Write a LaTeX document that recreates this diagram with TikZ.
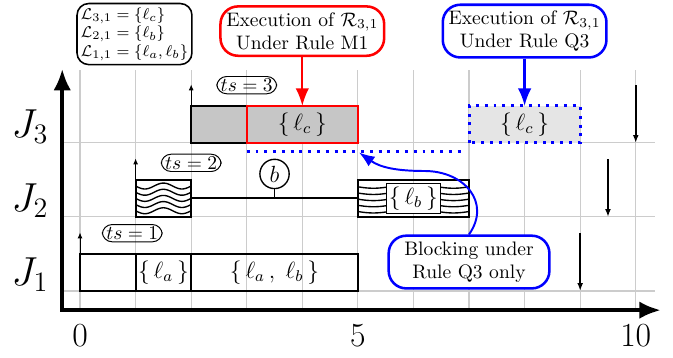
\documentclass[tikz,border=0pt]{standalone}
\usetikzlibrary{arrows.meta}
\begin{document}
\begin{tikzpicture}[x=1cm,y=1.332cm,
  job/.style={draw,line width=1pt},
  tag/.style={draw,rounded corners=5pt,inner ysep=1.2pt,inner xsep=2pt,line width=.5pt},
  callout/.style={draw,rounded corners=9pt,line width=1.3pt,fill=white,align=center,inner sep=3pt},
  rel/.style={-{Latex[length=3pt,width=2.5pt]},line width=.5pt},
  dl/.style={-{Latex[length=4pt,width=3pt]},line width=.9pt},
  cl/.style={line width=1.2pt,-{Latex[length=9pt,width=7pt]}},
  qdot/.style={blue,line width=1.5pt,dash pattern=on 1.5pt off 3pt}]
\useasboundingbox (-1.44,-.905) rectangle (10.67,3.93);
\draw[gray!40,line width=.6pt,step=1] (-.3,-.25) grid (10.35,2.98);
% axes
\coordinate (o) at (-.32,-.26);\coordinate (xend) at (10.45,-.26);\coordinate (yend) at (-.32,3.0);
\draw[line width=2pt,{Latex[length=11pt,width=9pt]}-{Latex[length=11pt,width=9pt]}] (yend) -- (o) -- (xend);
\foreach \x in {0,5,10}{\node[font=\LARGE] (t\x) at (\x,-.6){$\x$};}
\foreach \k/\y in {1/0,2/1,3/2}{\node[font=\huge] (j\k) at (-.9,\y+.22){$J_\k$};}
% J1
\draw[job] (0,0) rectangle (5,.5);\draw[job] (1,0) -- (1,.5) (2,0) -- (2,.5);
\node[font=\large] (la) at (1.5,.25){$\{\,\ell_a\,\}$};
\node[font=\large] (lab) at (3.5,.25){$\{\,\ell_a\,,\;\ell_b\,\}$};
% J2
\foreach \o in {.083,.167,.25,.333,.417}{\draw[line width=.7pt] plot[domain=1:2,samples=40,smooth] (\x,{1+\o+.04*sin(540*\x)});}
\foreach \o in {.083,.167,.25,.333,.417}{\draw[line width=.7pt] plot[domain=5:7,samples=40,smooth] (\x,{1+\o+.03*cos(250*(\x-6))});}
\draw[job] (1,1) rectangle (2,1.5);\draw[job] (5,1) rectangle (7,1.5);
\coordinate (wL) at (2,1.257);\coordinate (wR) at (5,1.257);\draw[line width=1pt] (wL) -- (wR);
\node[draw,fill=white,line width=.5pt,inner sep=1.5pt,font=\large] (lb) at (6,1.25){$\{\,\ell_b\,\}$};
\node[circle,draw,line width=.7pt,minimum size=15pt,inner sep=0pt,font=\large] (bb) at (3.5,1.58){$b$};
\coordinate (bfoot) at (3.5,1.257);\draw[line width=.7pt] (bb) -- (bfoot);
% J3
\draw[job,fill=gray!45] (2,2) rectangle (3,2.5);
\draw[job,draw=red,fill=gray!45] (3,2) rectangle (5,2.5);
\node[font=\large] (lc) at (4,2.25){$\{\,\ell_c\,\}$};
\draw[qdot,fill=gray!20] (7,2) rectangle (9,2.5);
\node[font=\large] (lcq) at (8,2.25){$\{\,\ell_c\,\}$};
\coordinate (qa) at (3,1.88);\coordinate (qb) at (6.9,1.88);\draw[qdot] (qa) -- (qb);
% releases and deadlines
\foreach \x/\y in {0/0,1/1,2/2}{\draw[rel] (\x,\y+.5) -- (\x,\y+.79);}
\foreach \x/\y in {9/0,9.5/1,10/2}{\draw[dl] (\x,\y+.78) -- (\x,\y);}
\node[tag] (ts1) at (.94,.78){$ts=1$};
\node[tag] (ts2) at (2,1.73){$ts=2$};
\node[tag] (ts3) at (3,2.78){$ts=3$};
% notes
\node[draw,rounded corners=6pt,line width=.8pt,align=left,font=\footnotesize,inner sep=2pt] (leg) at (.98,3.47){$\mathcal{L}_{3,1}=\{\ell_c\}$\\$\mathcal{L}_{2,1}=\{\ell_b\}$\\$\mathcal{L}_{1,1}=\{\ell_a,\ell_b\}$};
\node[callout,draw=red] (m1) at (4,3.51){Execution of $\mathcal{R}_{3,1}$\\Under Rule M1};
\node[callout,draw=blue] (q3) at (8,3.51){Execution of $\mathcal{R}_{3,1}$\\Under Rule Q3};
\coordinate (m1t) at (4,2.5);\coordinate (q3t) at (8,2.5);
\draw[cl,red] (m1) -- (m1t);\draw[cl,blue] (q3) -- (q3t);
\node[callout,draw=blue,inner xsep=8pt] (blk) at (7,.39){Blocking under\\Rule Q3 only};
\coordinate (bend) at (6.2,1.62);\coordinate (hit) at (5.02,1.87);
\draw[blue,line width=1pt,-{Latex[length=8pt,width=6pt]}] (blk.north) to[out=55,in=0,looseness=1.3] (bend) to[out=180,in=-35] (hit);
\end{tikzpicture}
\end{document}
